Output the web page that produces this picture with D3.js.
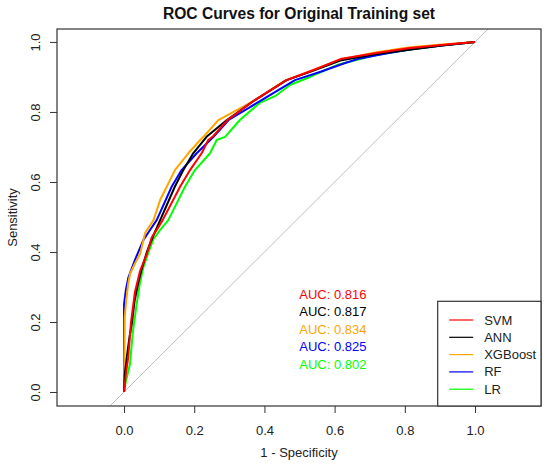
<!DOCTYPE html>
<html>
<head>
<meta charset="utf-8">
<script src="https://cdn.jsdelivr.net/npm/d3@7"></script>
<style>
  body { margin: 0; background: #fff; }
  text { font-family: "Liberation Sans", Arial, sans-serif; }
</style>
</head>
<body>
<div id="chart"></div>
<script>
"use strict";

// model names, colours and AUC labels (legend order)
const models = ["SVM", "ANN", "XGBoost", "RF", "LR"];
const colors = ["#ff0000", "#000000", "#ffa500", "#0000ff", "#00ff00"];
const aucs = ["0.816", "0.817", "0.834", "0.825", "0.802"];

// ROC points as [1 - specificity, sensitivity]
const svmRoc = [
  [0, 0], [0.005, 0.05], [0.012, 0.1], [0.02, 0.2], [0.031, 0.285],
  [0.046, 0.347], [0.065, 0.394], [0.079, 0.442], [0.093, 0.463],
  [0.11, 0.491], [0.16, 0.587], [0.188, 0.634], [0.221, 0.682],
  [0.24, 0.72], [0.252, 0.729], [0.295, 0.777], [0.373, 0.834],
  [0.463, 0.891], [0.54, 0.92], [0.62, 0.952], [0.715, 0.968],
  [0.81, 0.982], [0.905, 0.991], [1, 1],
];
const annRoc = [
  [0, 0], [0.002, 0.05], [0.008, 0.1], [0.016, 0.16], [0.022, 0.194],
  [0.03, 0.26], [0.04, 0.31], [0.05, 0.35], [0.065, 0.4], [0.085, 0.45],
  [0.103, 0.491], [0.145, 0.587], [0.169, 0.634], [0.197, 0.682],
  [0.235, 0.729], [0.293, 0.777], [0.373, 0.834], [0.463, 0.891],
  [0.54, 0.918], [0.62, 0.948], [0.715, 0.965], [0.81, 0.978],
  [0.905, 0.99], [1, 1],
];
const xgbRoc = [
  [0, 0], [0.001, 0.1], [0.002, 0.213], [0.006, 0.26], [0.012, 0.31],
  [0.017, 0.337], [0.03, 0.365], [0.046, 0.395], [0.06, 0.454],
  [0.084, 0.491], [0.103, 0.549], [0.122, 0.587], [0.145, 0.634],
  [0.183, 0.682], [0.217, 0.72], [0.226, 0.729], [0.269, 0.777],
  [0.373, 0.834], [0.46, 0.89], [0.54, 0.92], [0.62, 0.95],
  [0.715, 0.97], [0.81, 0.984], [0.905, 0.993], [1, 1],
];
const rfRoc = [
  [0, 0], [0, 0.25], [0.005, 0.29], [0.012, 0.326], [0.031, 0.377],
  [0.055, 0.434], [0.074, 0.463], [0.093, 0.491], [0.136, 0.587],
  [0.164, 0.634], [0.207, 0.682], [0.255, 0.729], [0.298, 0.777],
  [0.392, 0.834], [0.487, 0.891], [0.56, 0.915], [0.63, 0.94],
  [0.672, 0.953], [0.75, 0.968], [0.81, 0.978], [0.905, 0.99], [1, 1],
];
const lrRoc = [
  [0, 0], [0.005, 0.03], [0.01, 0.05], [0.017, 0.08], [0.025, 0.17],
  [0.036, 0.251], [0.045, 0.31], [0.055, 0.356], [0.07, 0.4],
  [0.084, 0.437], [0.103, 0.463], [0.126, 0.491], [0.174, 0.587],
  [0.202, 0.634], [0.245, 0.682], [0.264, 0.72], [0.288, 0.729],
  [0.33, 0.777], [0.387, 0.826], [0.43, 0.845], [0.473, 0.877],
  [0.53, 0.9], [0.606, 0.934], [0.715, 0.962], [0.81, 0.978],
  [0.905, 0.99], [1, 1],
];

const tickValues = [0, 0.2, 0.4, 0.6, 0.8, 1.0];
const aucY = [0.28, 0.23, 0.18, 0.13, 0.08];

const W = 550;
const H = 468;
const box = { left: 57, right: 541, top: 29, bottom: 406 };
const frame = "#333333";

const x = d3.scaleLinear().domain([-0.191, 1.188]).range([box.left, box.right]);
const y = d3.scaleLinear().domain([-0.04, 1.037]).range([box.bottom, box.top]);

const svg = d3
  .select("#chart")
  .append("svg")
  .attr("width", W)
  .attr("height", H);

svg.append("clipPath")
  .attr("id", "plotclip")
  .append("rect")
  .attr("x", box.left)
  .attr("y", box.top)
  .attr("width", box.right - box.left)
  .attr("height", box.bottom - box.top);

// chance diagonal
svg.append("line")
  .attr("clip-path", "url(#plotclip)")
  .attr("x1", x(-0.2)).attr("y1", y(-0.2))
  .attr("x2", x(1.2)).attr("y2", y(1.2))
  .attr("stroke", "#bebebe")
  .attr("stroke-width", 1);

// curves, drawn so that red ends on top
const line = d3.line().x((d) => x(d[0])).y((d) => y(d[1]));
const series = [svmRoc, annRoc, xgbRoc, rfRoc, lrRoc];
const drawOrder = [4, 3, 2, 1, 0];

svg.append("g")
  .selectAll("path")
  .data(drawOrder)
  .enter()
  .append("path")
  .attr("d", (i) => line(series[i]))
  .attr("fill", "none")
  .attr("stroke", (i) => colors[i])
  .attr("stroke-width", 2)
  .attr("stroke-linejoin", "round");

// axes
const xAxis = svg.append("g")
  .attr("transform", `translate(0,${box.bottom})`)
  .call(d3.axisBottom(x).tickValues(tickValues).tickSize(7).tickFormat(d3.format(".1f")));
xAxis.select(".domain").remove();
xAxis.selectAll("line").attr("stroke", frame);
xAxis.selectAll("text")
  .attr("y", 28.7)
  .attr("dy", 0)
  .attr("fill", "#222")
  .attr("font-size", "13px");

const yAxis = svg.append("g")
  .attr("transform", `translate(${box.left},0)`)
  .call(d3.axisLeft(y).tickValues(tickValues).tickSize(7).tickFormat(d3.format(".1f")));
yAxis.select(".domain").remove();
yAxis.selectAll("line").attr("stroke", frame);
yAxis.selectAll("text")
  .attr("x", 0)
  .attr("dy", 0)
  .attr("text-anchor", "middle")
  .attr("transform", "translate(-17,0) rotate(-90)")
  .attr("fill", "#222")
  .attr("font-size", "13px");

// plot frame
svg.append("rect")
  .attr("x", box.left)
  .attr("y", box.top)
  .attr("width", box.right - box.left)
  .attr("height", box.bottom - box.top)
  .attr("fill", "none")
  .attr("stroke", frame)
  .attr("stroke-width", 1.2);

// titles
svg.append("text")
  .text("ROC Curves for Original Training set")
  .attr("x", (box.left + box.right) / 2)
  .attr("y", 19)
  .attr("text-anchor", "middle")
  .attr("font-size", "15.6px")
  .attr("font-weight", "bold")
  .attr("fill", "#111");

svg.append("text")
  .text("1 - Specificity")
  .attr("x", (box.left + box.right) / 2)
  .attr("y", 456.5)
  .attr("text-anchor", "middle")
  .attr("font-size", "13px")
  .attr("fill", "#222");

svg.append("text")
  .text("Sensitivity")
  .attr("transform", `translate(16.5,${(box.top + box.bottom) / 2}) rotate(-90)`)
  .attr("text-anchor", "middle")
  .attr("font-size", "13px")
  .attr("fill", "#222");

// AUC labels
svg.append("g")
  .selectAll("text")
  .data(models)
  .enter()
  .append("text")
  .text((d, i) => "AUC: " + aucs[i])
  .attr("x", x(0.595))
  .attr("y", (d, i) => y(aucY[i]))
  .attr("dy", "0.35em")
  .attr("text-anchor", "middle")
  .attr("font-size", "13px")
  .attr("fill", (d, i) => colors[i]);

// legend
const lg = { left: 437.7, top: 301.3, row: 17.3, first: 18.7 };
svg.append("rect")
  .attr("x", lg.left)
  .attr("y", lg.top)
  .attr("width", box.right - lg.left)
  .attr("height", box.bottom - lg.top)
  .attr("fill", "#fff")
  .attr("stroke", frame)
  .attr("stroke-width", 1.2);

const items = svg.append("g")
  .selectAll("g")
  .data(models)
  .enter()
  .append("g")
  .attr("transform", (d, i) => `translate(${lg.left},${lg.top + lg.first + i * lg.row})`);

items.append("line")
  .attr("x1", 11.5).attr("x2", 35.5)
  .attr("y1", 0).attr("y2", 0)
  .attr("stroke", (d, i) => colors[i])
  .attr("stroke-width", 1.2);

items.append("text")
  .text((d) => d)
  .attr("x", 46.5)
  .attr("dy", "0.35em")
  .attr("font-size", "13px")
  .attr("fill", "#222");
</script>
</body>
</html>
